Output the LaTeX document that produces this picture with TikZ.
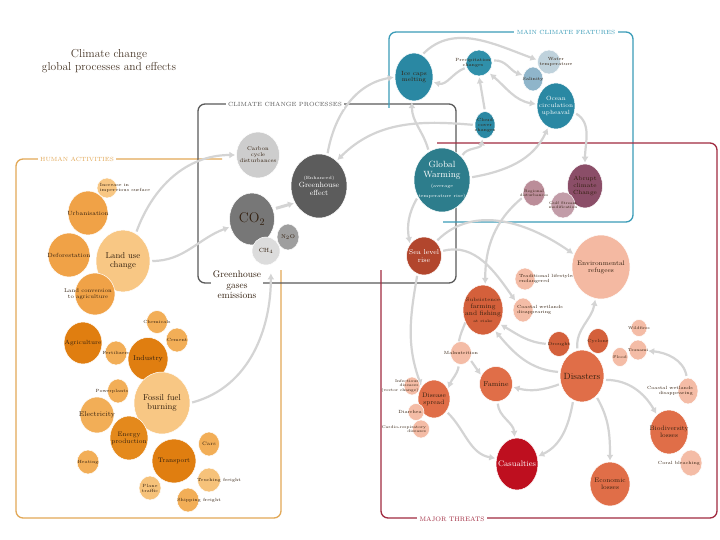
\documentclass[tikz,border=0pt]{standalone}
\usepackage{fontspec}
\usetikzlibrary{arrows.meta,shapes.geometric,backgrounds}
\definecolor{ink}{HTML}{33200F}
\definecolor{arrgrey}{HTML}{D4D4D4}
\definecolor{frOrange}{HTML}{E2A857}
\definecolor{frGrey}{HTML}{5A5A5A}
\definecolor{frTeal}{HTML}{3B9CB8}
\definecolor{frRed}{HTML}{A12B40}
\definecolor{oLt}{HTML}{F8C784}
\definecolor{oMid}{HTML}{F0A247}
\definecolor{oDk}{HTML}{E07E10}
\definecolor{oDkb}{HTML}{E4891C}
\definecolor{oSm}{HTML}{F2AE57}
\definecolor{oSmb}{HTML}{F6C27A}
\definecolor{gLt}{HTML}{CDCDCD}
\definecolor{gMd}{HTML}{777777}
\definecolor{gDk}{HTML}{5C5C5C}
\definecolor{gNo}{HTML}{9E9E9E}
\definecolor{gCh}{HTML}{DCDCDC}
\definecolor{tA}{HTML}{2A88A3}
\definecolor{tB}{HTML}{3090AA}
\definecolor{tWater}{HTML}{BFD2DC}
\definecolor{tSal}{HTML}{8FB5CA}
\definecolor{tGW}{HTML}{2D7D8C}
\definecolor{mauve}{HTML}{8B4E68}
\definecolor{mauveLt}{HTML}{BB8D99}
\definecolor{mauveGs}{HTML}{C29CA8}
\definecolor{rSea}{HTML}{B2462D}
\definecolor{rSub}{HTML}{D4603B}
\definecolor{rLt}{HTML}{F4BCA6}
\definecolor{rRef}{HTML}{F4B9A2}
\definecolor{rDis}{HTML}{E06E48}
\definecolor{rCas}{HTML}{BE0F1F}
\newcommand\fz[1]{\fontsize{#1}{\dimexpr #1pt*11/10\relax}\selectfont}

\begin{document}
\begin{tikzpicture}[
        x=1pt, y=1pt,
        bub/.style={ellipse, inner sep=0pt, draw=white, line width=0.5pt},
        sz/.style 2 args={minimum width=#1pt, minimum height=#2pt},
        lbl/.style={align=center, inner sep=0pt, text=ink},
        tx/.style 2 args={label={[lbl,font=\fz{#1}]center:{#2}}},
        txw/.style 2 args={label={[lbl,text=white,font=\fz{#1}]center:{#2}}},
        frame/.style={line width=1.3pt, rounded corners=7pt},
        flab/.style={fill=white, inner sep=2.5pt, font=\fz{6}},
        arr/.style={-{Latex[length=6pt,width=7pt]}, draw=arrgrey,
                    line width=2.2pt, shorten <=2pt, shorten >=1pt},
        link/.style={draw=arrgrey, line width=2.2pt}
    ]
    \useasboundingbox (0,0) rectangle (720,-540);

    \node[text=ink!90, font=\fz{11.5}, align=center] (title) at (109,-61)
        {Climate change\\global processes and effects};

    % human activities
    \node[bub, fill=oLt, sz={20}{20},
          label={[lbl,font=\fz{4.5},align=left,xshift=18pt]center:{Increase in\\impervious surface}}] (imperv) at (107,-188) {};
    \node[bub, fill=oMid, sz={40}{44}, tx={6}{Urbanisation}] (urban) at (88,-213) {};
    \node[bub, fill=oMid, sz={42}{44}, tx={6}{Deforestation}] (defor) at (69,-255) {};
    \node[bub, fill=oLt, sz={54}{62}, tx={8.5}{Land use\\change}] (landuse) at (123,-261) {};
    \node[bub, fill=oMid, sz={40}{42},
          label={[lbl,font=\fz{5.5},xshift=-7pt]center:{Land conversion\\to agriculture}}] (landconv) at (95,-294) {};
    \node[bub, fill=oSm, sz={21}{23}, tx={4.5}{Chemicals}] (chem) at (157,-322) {};
    \node[bub, fill=oSm, sz={22}{24}, tx={4.5}{Cement}] (cement) at (177,-340) {};
    \node[bub, fill=oDk, sz={38}{42}, tx={6}{Agriculture}] (agri) at (83,-343) {};
    \node[bub, fill=oSm, sz={22}{24}, tx={4.5}{Fertilizers}] (fert) at (116,-353) {};
    \node[bub, fill=oDk, sz={40}{43}, tx={7}{Industry}] (industry) at (148,-359) {};
    \node[bub, fill=oSm, sz={21}{24},
          label={[lbl,font=\fz{4.5},xshift=-6pt]center:{Powerplants}}] (power) at (118,-391) {};
    \node[bub, fill=oLt, sz={56}{62}, tx={8.5}{Fossil fuel\\burning}] (fossil) at (162,-403) {};
    \node[bub, fill=oSm, sz={34}{36}, tx={7}{Electricity}] (elec) at (97,-415) {};
    \node[bub, fill=oDkb, sz={38}{44}, tx={6.5}{Energy\\production}] (energy) at (129,-438) {};
    \node[bub, fill=oSm, sz={22}{24}, tx={4.5}{Heating}] (heating) at (88,-462) {};
    \node[bub, fill=oDk, sz={44}{44}, tx={6.5}{Transport}] (transport) at (174,-461) {};
    \node[bub, fill=oSm, sz={21}{24}, tx={5}{Cars}] (cars) at (209,-444) {};
    \node[bub, fill=oSmb, sz={23}{24},
          label={[lbl,font=\fz{4.5},xshift=10pt]center:{Trucking freight}}] (truck) at (209,-480) {};
    \node[bub, fill=oSmb, sz={22}{24}, tx={4.5}{Plane\\traffic}] (plane) at (150,-488) {};
    \node[bub, fill=oSm, sz={22}{24},
          label={[lbl,font=\fz{4.5},xshift=11pt]center:{Shipping freight}}] (ship) at (188,-500) {};

    % climate change processes
    \node[bub, fill=gLt, sz={43}{46}, tx={5.5}{Carbon\\cycle\\disturbances}] (carbon) at (258,-155) {};
    \node[bub, fill=gDk, sz={56}{64},
          txw={7.5}{{\fz{4.5}(Enhanced)}\\Greenhouse\\effect}] (ghe) at (319,-186) {};
    \node[bub, fill=gMd, sz={45}{52}, tx={14}{CO$_2$}] (co2) at (252,-219) {};
    \node[bub, fill=gNo, sz={22}{26}, tx={5.5}{N$_2$O}] (n2o) at (288,-237) {};
    \node[bub, fill=gCh, sz={28}{28}, tx={6}{CH$_4$}] (ch4) at (266,-251) {};
    \node[lbl, fill=white, inner sep=1.5pt, font=\fz{9.5}] (gases) at (237,-285)
        {Greenhouse\\gases\\emissions};

    % main climate features
    \node[bub, fill=tA, sz={38}{48}, tx={6}{Ice caps\\melting}] (icecaps) at (414,-77) {};
    \node[bub, fill=tB, sz={26}{26},
          label={[lbl,font=\fz{4.5},xshift=-6pt]center:{Precipitation\\changes}}] (precip) at (479,-63) {};
    \node[bub, fill=tWater, sz={23}{24},
          label={[lbl,font=\fz{4.5},xshift=7pt]center:{Water\\temperature}}] (water) at (549,-62) {};
    \node[bub, fill=tSal, sz={20}{24}, tx={4.5}{Salinity}] (salinity) at (533,-79) {};
    \node[bub, fill=tA, sz={38}{46}, txw={6}{Ocean\\circulation\\upheaval}] (ocean) at (556,-106) {};
    \node[bub, fill=tA, sz={20}{27}, tx={4.5}{Cloud\\cover\\changes}] (cloud) at (485,-125) {};
    \node[bub, fill=tGW, sz={56}{64},
          txw={9}{Global\\Warming\\{\fz{4.5}(average}\\{\fz{4.5}temperature rise)}}] (gw) at (442,-180) {};
    \node[bub, fill=mauve, sz={35}{44}, tx={6}{Abrupt\\climate\\Change}] (abrupt) at (585,-186) {};
    \node[bub, fill=mauveLt, sz={22}{26}, tx={3.8}{Regional\\disturbances}] (regional) at (534,-193) {};
    \node[bub, fill=mauveGs, sz={24}{26}, tx={3.8}{Gulf Stream\\modification}] (gulf) at (563,-205) {};

    % major threats
    \node[bub, fill=rSea, sz={35}{38}, txw={7}{Sea level\\rise}] (sealevel) at (424,-256) {};
    \node[bub, fill=rLt, sz={20}{22},
          label={[lbl,font=\fz{4.5},align=left,xshift=22pt]center:{Traditional lifestyles\\endangered}}] (tradlife) at (525,-279) {};
    \node[bub, fill=rLt, sz={20}{24},
          label={[lbl,font=\fz{4.5},align=left,xshift=17pt]center:{Coastal wetlands\\disappearing}}] (coastalA) at (523,-310) {};
    \node[bub, fill=rSub, sz={40}{50},
          tx={6.5}{{\fz{5}Subsistence}\\farming\\and fishing\\{\fz{4}at stake}}] (subsist) at (483,-310) {};
    \node[bub, fill=rRef, sz={58}{64}, tx={6.5}{Environmental\\refugees}] (refugees) at (601,-267) {};
    \node[bub, fill=rLt, sz={21}{23}, tx={4.5}{Malnutrition}] (malnut) at (461,-353) {};
    \node[bub, fill=rDis, sz={33}{35}, tx={7}{Famine}] (famine) at (496,-384) {};
    \node[bub, fill=rSub, sz={22}{25}, tx={4.5}{Drought}] (drought) at (559,-344) {};
    \node[bub, fill=rSub, sz={21}{25}, tx={4.5}{Cyclone}] (cyclone) at (598,-341) {};
    \node[bub, fill=rDis, sz={44}{52}, tx={9}{Disasters}] (disasters) at (582,-376) {};
    \node[bub, fill=rLt, sz={16}{17}, tx={4}{Wildfires}] (wildfire) at (639,-328) {};
    \node[bub, fill=rLt, sz={18}{20}, tx={4}{Tsunami}] (tsunami) at (638,-350) {};
    \node[bub, fill=rLt, sz={16}{19}, tx={4}{Flood}] (flood) at (620,-357) {};
    \node[bub, fill=rLt, sz={20}{26},
          label={[lbl,font=\fz{4.5},align=right,xshift=-18pt]center:{Coastal wetlands\\disappearing}}] (coastalB) at (688,-391) {};
    \node[bub, fill=rDis, sz={38}{44}, tx={6.5}{Biodiversity\\losses}] (biodiv) at (669,-432) {};
    \node[bub, fill=rLt, sz={22}{26},
          label={[lbl,font=\fz{4.5},xshift=-12pt]center:{Coral bleaching}}] (coral) at (691,-463) {};
    \node[bub, fill=rDis, sz={40}{44}, tx={6.5}{Economic\\losses}] (econ) at (610,-484) {};
    \node[bub, fill=rCas, sz={42}{52}, txw={8}{Casualties}] (casualties) at (517,-464) {};
    \node[bub, fill=rDis, sz={32}{38}, tx={6.5}{Disease\\spread}] (disease) at (434,-399) {};
    \node[bub, fill=rLt, sz={16}{18},
          label={[lbl,font=\fz{4},align=right,xshift=-12pt]center:{Infectious\\diseases\\(vector change)}}] (infect) at (412,-386) {};
    \node[bub, fill=rLt, sz={16}{17},
          label={[lbl,font=\fz{4.5},xshift=-6pt]center:{Diarrhea}}] (diarrhea) at (416,-412) {};
    \node[bub, fill=rLt, sz={17}{18},
          label={[lbl,font=\fz{4},align=right,xshift=-17pt]center:{Cardio-respiratory\\diseases}}] (cardio) at (421,-429) {};

    % frame titles
    \node[flab, text=frOrange] (lbHuman) at (77,-159) {HUMAN ACTIVITIES};
    \node[flab, text=frGrey] (lbProc) at (285,-104) {CLIMATE CHANGE PROCESSES};
    \node[flab, text=frTeal] (lbMain) at (566,-32) {MAIN CLIMATE FEATURES};
    \node[flab, text=frRed, font=\fz{6.5}] (lbThreat) at (452,-519) {MAJOR THREATS};

    \begin{scope}[on background layer]
        \fill[white] (0,0) rectangle (720,-540);
        \draw[frame, frOrange] (222,-159) -- (16,-159) -- (16,-518) -- (281,-518) -- (281,-270);
        \draw[frame, frGrey] (198,-104) rectangle (456,-283);
        \draw[frame, frTeal] (389,-108) -- (389,-32) -- (633,-32) -- (633,-222) -- (443,-222);
        \draw[frame, frRed] (437,-143) -- (717,-143) -- (717,-518) -- (381,-518) -- (381,-270);

        \draw[arr] (landuse.65) to[out=70, in=180] (carbon.west);
        \draw[arr] (landuse.east) to[out=0, in=200] (co2.200);
        \draw[arr, shorten >=9pt] (fossil.east) to[out=15, in=-90] (ch4.-70);
        \draw[arr, line width=3pt, shorten <=3pt] (co2.25) -- (ghe.215);
        \draw[arr] (ghe.75) to[out=80, in=190] (icecaps.west);
        \draw[arr] (cloud.west) to[out=175, in=45] (ghe.55);
        \draw[arr] (gw.115) to[out=105, in=-90] (icecaps.-95);
        \draw[arr] (gw.50) to[out=60, in=-100] (cloud.-100);
        \draw[arr] (gw.5) to[out=10, in=-115] (ocean.-110);
        \draw[arr] (cloud.north) -- (precip.south);
        \draw[arr] (precip.200) to[out=200, in=-15] (icecaps.-15);
        \draw[arr] (icecaps.70) to[out=45, in=160] (water.170);
        \draw[arr] (precip.10) to[out=5, in=160] (salinity.160);
        \draw[arr, {Latex[length=6pt,width=7pt]}-{Latex[length=6pt,width=7pt]}]
            (precip.-45) to[out=-40, in=170] (ocean.175);
        \draw[arr] (ocean.-20) to[out=-30, in=90] (abrupt.north);
        \draw[arr] (gw.215) to[out=240, in=100] (sealevel.140);
        \draw[arr] (regional.200) to[out=220, in=90] (subsist.85);

        \draw[arr] (sealevel.50) to[out=45, in=145] (refugees.155);
        \draw[arr] (sealevel.15) to[out=15, in=125] (coastalA.130);
        \draw[arr] (sealevel.250) to[out=260, in=110] (disease.135);
        \draw[link] (subsist.215) to[out=250, in=80] (malnut.100);
        \draw[arr] (malnut.-35) -- (famine.150);
        \draw[arr] (malnut.-100) to[out=-100, in=70] (disease.35);
        \draw[arr] (drought.west) to[out=175, in=-30] (subsist.-40);
        \draw[arr] (disasters.170) to[out=175, in=-50] (subsist.-60);
        \draw[arr] (disasters.200) to[out=200, in=-15] (famine.-10);
        \draw[arr] (famine.-85) to[out=-85, in=95] (casualties.95);
        \draw[arr] (disease.-45) to[out=-45, in=170] (casualties.165);
        \draw[arr] (disasters.-110) to[out=-100, in=25] (casualties.20);
        \draw[arr] (disasters.-55) to[out=-60, in=90] (econ.north);
        \draw[arr] (disasters.-10) to[out=0, in=120] (biodiv.125);
        \draw[arr] (coastalB.95) to[out=100, in=-5] (tsunami.-5);
        \draw[arr] (disasters.100) to[out=95, in=-100] (refugees.-100);
    \end{scope}
\end{tikzpicture}
\end{document}
